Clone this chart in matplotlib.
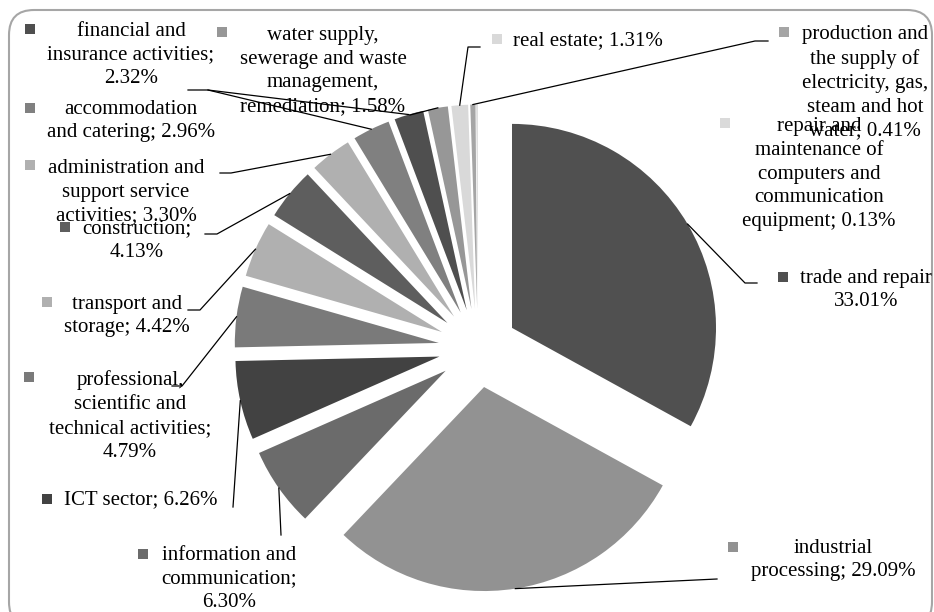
import matplotlib.pyplot as plt
from matplotlib.patches import FancyBboxPatch
import numpy as np

plt.rcParams['font.family'] = ['Liberation Serif', 'DejaVu Serif']

# sectors, clockwise from 12 o'clock
sectors = ["trade and repair", "industrial processing", "information and communication",
           "ICT sector", "professional, scientific and technical activities",
           "transport and storage", "construction", "administration and support service activities",
           "accommodation and catering", "financial and insurance activities",
           "water supply, sewerage and waste management, remediation", "real estate",
           "production and the supply of electricity, gas, steam and hot water",
           "repair and maintenance of computers and communication equipment"]
shares = [33.01, 29.09, 6.30, 6.26, 4.79, 4.42, 4.13, 3.30, 2.96, 2.32, 1.58, 1.31, 0.41, 0.13]
colors = ["#505050", "#929292", "#6b6b6b", "#424242", "#7a7a7a", "#b0b0b0", "#5e5e5e",
          "#b0b0b0", "#808080", "#4f4f4f", "#979797", "#d9d9d9", "#a5a5a5", "#dadada"]

# label text as wrapped in the original
label_texts = ["trade and repair\n33.01%",
               "industrial\nprocessing; 29.09%",
               "information and\ncommunication;\n6.30%",
               "ICT sector; 6.26%",
               "professional,\nscientific and\ntechnical activities;\n4.79%",
               "transport and\nstorage; 4.42%",
               "construction;\n4.13%",
               "administration and\nsupport service\nactivities; 3.30%",
               "accommodation\nand catering; 2.96%",
               "financial and\ninsurance activities;\n2.32%",
               "water supply,\nsewerage and waste\nmanagement,\nremediation; 1.58%",
               "real estate; 1.31%",
               "production and\nthe supply of\nelectricity, gas,\nsteam and hot\nwater; 0.41%",
               "repair and\nmaintenance of\ncomputers and\ncommunication\nequipment; 0.13%"]

W, H = 934, 612

# label layout in pixels from top-left: text centre, legend key, leader elbows
text_pos = [(866, 290), (833, 560), (229, 579), (141, 500), (130, 416), (127, 316),
            (137, 241), (126, 192), (131, 121), (131, 55), (323, 71), (588, 41),
            (865, 83), (819, 174)]
key_pos = [(783, 277), (733, 547), (143, 554), (47, 499), (29, 377), (47, 302),
           (65, 227), (30, 165), (30, 108), (30, 29), (222, 32), (497, 39),
           (784, 32), (725, 123)]
leaders = [[(757, 283), (745, 283)], [(717, 579)], [(281, 535)], [(233, 507)],
           [(172, 386), (182, 386)], [(188, 310), (200, 310)], [(205, 234), (217, 234)],
           [(220, 173), (231, 173)], [(208, 90)], [(188, 90), (208, 90)],
           [(410, 115)], [(480, 47), (468, 47)], [(768, 41), (755, 41)], []]

fig = plt.figure(figsize=(W / 100, H / 100), dpi=100)
ax = fig.add_axes([0, 0, 1, 1])

# explode is in data units here (pixels)
wedges, _ = ax.pie(shares, colors=colors, startangle=90, counterclock=False,
                   explode=[39.5] * len(shares), radius=204, center=(478, H - 348),
                   wedgeprops=dict(linewidth=0))

ax.set_xlim(0, W)
ax.set_ylim(0, H)
ax.set_aspect('equal')
ax.axis('off')

for i, w in enumerate(wedges):
    tx, ty = text_pos[i]
    ax.text(tx, H - ty, label_texts[i], ha='center', va='center', multialignment='center',
            fontsize=15, linespacing=1.34, color='black')
    kx, ky = key_pos[i]
    ax.scatter([kx], [H - ky], marker='s', s=55, color=colors[i], linewidths=0)
    if leaders[i]:
        mid = np.deg2rad((w.theta1 + w.theta2) / 2)
        ax_x = w.center[0] + w.r * np.cos(mid)
        ax_y = w.center[1] + w.r * np.sin(mid)
        xs = [p[0] for p in leaders[i]] + [ax_x]
        ys = [H - p[1] for p in leaders[i]] + [ax_y]
        ax.plot(xs, ys, color='black', lw=0.9)

# rounded frame around the chart
frame = FancyBboxPatch((9, -15), 923, H - 10 + 15, boxstyle="round,pad=0,rounding_size=25",
                       facecolor='none', edgecolor='#a6a6a6', lw=1.5, clip_on=False)
ax.add_patch(frame)

plt.savefig("out.png", dpi=100)
